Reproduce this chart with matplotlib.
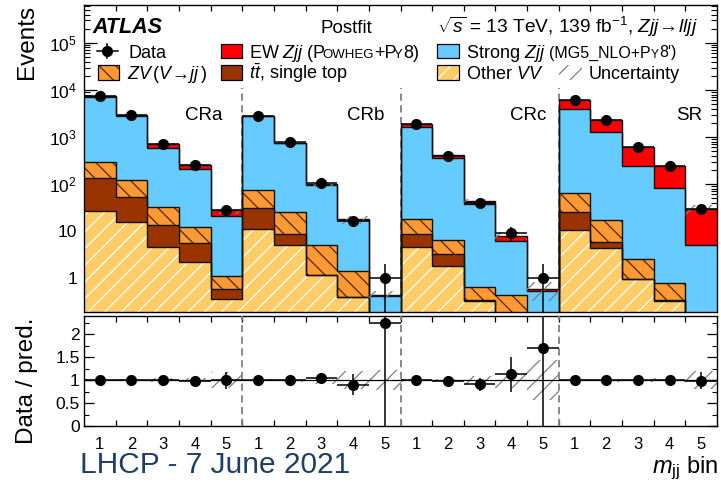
import numpy as np
import matplotlib
matplotlib.use("Agg")
import matplotlib.pyplot as plt
from matplotlib.patches import Rectangle
from matplotlib.lines import Line2D
from matplotlib.ticker import FixedLocator, FixedFormatter, LogLocator, NullFormatter, MultipleLocator

FONT = "Liberation Sans"
plt.rcParams.update({
    "font.family": [FONT, "DejaVu Sans"],
    "mathtext.fontset": "custom",
    "mathtext.rm": FONT,
    "mathtext.it": FONT + ":italic",
    "mathtext.bf": FONT + ":bold",
    "hatch.linewidth": 0.9,
    "axes.linewidth": 1.0,
})

# yields per m_jj bin, regions CRa, CRb, CRc, SR (5 bins each)
regions = ["CRa", "CRb", "CRc", "SR"]
bin_labels = ["1", "2", "3", "4", "5"] * 4
data = [7280, 2940, 700, 250, 28, 2800, 765, 103, 16, 1,
        1850, 400, 40, 9, 1, 6100, 2300, 622, 241, 29]
ew_zjj = [330, 140, 115, 48, 7, 30, 10, 2, 0.4, 0.03,
          190, 43, 6, 1.85, 0.06, 2220, 1040, 381, 158, 24.4]
strong_zjj = [6650, 2680, 553, 193, 19.9, 2700, 724, 92, 15.9, 0.39,
              1640, 357, 37.4, 5.7, 0.5, 3820, 1243, 238, 82, 4.85]
zv = [165, 70, 18.8, 6.4, 0.54, 43, 16.9, 3.84, 1.03, 0.01,
      8.9, 3.2, 0.31, 0.32, 0.01, 37.3, 11.2, 1.65, 0.45, 0.05]
ttbar = [105, 36.7, 8.7, 3.4, 0.22, 20, 3.8, 0.02, 0.01, 0.005,
         4.2, 1.4, 0.01, 0.01, 0.005, 15.2, 1.6, 0.01, 0.01, 0.01]
other_vv = [27, 15.3, 4.5, 2.2, 0.36, 11, 5.0, 1.14, 0.39, 0.01,
            4.6, 1.8, 0.33, 0.1, 0.01, 10.5, 4.3, 0.94, 0.33, 0.1]
rel_unc = [0.02, 0.02, 0.04, 0.05, 0.18, 0.02, 0.03, 0.08, 0.2, 0.22,
           0.03, 0.03, 0.1, 0.18, 0.44, 0.02, 0.03, 0.04, 0.05, 0.2]

C_EW = "#ff0000"
C_STRONG = "#66ccff"
C_ZV = "#ff9933"
C_TT = "#993300"
C_VV = "#ffcc66"
C_UNC = "#7f7f7f"

W, H = 721, 482


def fx(px):
    return px / W


def fy(py):
    return 1 - py / H


fig = plt.figure(figsize=(W / 100, H / 100), dpi=100)
ax = fig.add_axes([fx(84), fy(312), (717 - 84) / W, (312 - 5) / H])
ax2 = fig.add_axes([fx(84), fy(426), (717 - 84) / W, (426 - 316) / H])

nb = len(data)
edges = np.arange(nb + 1)
centers = edges[:-1] + 0.5
data = np.array(data, float)
u = np.array(rel_unc)

# stacked backgrounds, bottom to top
layers = [
    (other_vv, C_VV, "white", "//"),
    (ttbar, C_TT, None, None),
    (zv, C_ZV, "#4d2600", "\\\\"),
    (strong_zjj, C_STRONG, None, None),
    (ew_zjj, C_EW, None, None),
]
base = np.full(nb, 1e-3)
tops = []
for vals, face, hc, hatch in layers:
    top = base + np.array(vals)
    ax.stairs(top, edges, baseline=base, fill=True, facecolor=face,
              edgecolor=hc if hc else face, hatch=hatch, lw=0, zorder=2)
    tops.append(top)
    base = top
for top in tops:
    ax.stairs(top, edges, baseline=None, color="#111111", lw=1.0, zorder=3)
total = base

ax.stairs(total * (1 + u), edges, baseline=total * (1 - u), fill=True,
          facecolor="none", edgecolor=C_UNC, hatch="//", lw=0, zorder=4)

err = np.sqrt(data)
err_lo = np.minimum(err, data - 1e-4)
ax.errorbar(centers, data, yerr=[err_lo, err], xerr=0.5, fmt="o", color="k",
            ms=7, elinewidth=1.1, capsize=0, zorder=6)

ax.vlines([5, 10, 15], 0.19, 1.1e4, colors=C_UNC, linestyles=(0, (4, 2.5)),
          lw=1.3, zorder=1)

ax.set_xlim(0, nb)
ax.set_yscale("log")
ax.set_ylim(0.19, 6.4e5)
ax.set_xticks(edges[1:-1])
ax.xaxis.set_major_formatter(NullFormatter())
ax.tick_params(axis="x", which="major", direction="in", length=4.5, top=True,
               width=0.9)
ax.yaxis.set_major_locator(FixedLocator([1, 10, 1e2, 1e3, 1e4, 1e5]))
ax.yaxis.set_major_formatter(FixedFormatter(
    ["1", "10", r"$10^{2}$", r"$10^{3}$", r"$10^{4}$", r"$10^{5}$"]))
ax.yaxis.set_minor_locator(LogLocator(base=10, subs=np.arange(2, 10)))
ax.yaxis.set_minor_formatter(NullFormatter())
ax.tick_params(axis="y", which="major", direction="in", length=9, width=0.9,
               right=True, labelsize=12.5, pad=5)
ax.tick_params(axis="y", which="minor", direction="in", length=4.5, width=0.8,
               right=True)

# ratio panel
ratio = data / total
ratio_err = np.sqrt(data) / total
ax2.stairs(1 + u, edges, baseline=1 - u, fill=True, facecolor="none",
           edgecolor=C_UNC, hatch="//", lw=0, zorder=2)
ax2.axhline(1, color="k", lw=0.9, zorder=3)
ax2.errorbar(centers, ratio, yerr=ratio_err, xerr=0.5, fmt="o", color="k",
             ms=7, elinewidth=1.1, capsize=0, zorder=6)
ax2.vlines([5, 10, 15], 0, 2.4, colors=C_UNC, linestyles=(0, (4, 2.5)),
           lw=1.3, zorder=5)
ax2.set_xlim(0, nb)
ax2.set_ylim(0, 2.4)
ax2.set_xticks(edges[1:-1])
ax2.xaxis.set_major_formatter(NullFormatter())
ax2.set_xticks(centers, labels=bin_labels, minor=True)
ax2.tick_params(axis="x", which="major", direction="in", length=4.5, top=True,
                width=0.9)
ax2.tick_params(axis="x", which="minor", length=0, pad=8, labelsize=12)
ax2.set_yticks([0, 0.5, 1, 1.5, 2], labels=["0", "0.5", "1", "1.5", "2"])
ax2.yaxis.set_minor_locator(MultipleLocator(0.25))
ax2.tick_params(axis="y", which="major", direction="in", length=7, width=0.9,
                right=True, labelsize=12.5, pad=3)
ax2.tick_params(axis="y", which="minor", direction="in", length=3.5,
                width=0.8, right=True)

# header texts
fig.text(fx(92), fy(33), "ATLAS", weight="bold", style="italic", size=15.5,
         va="baseline")
fig.text(fx(346), fy(33), "Postfit", ha="center", va="baseline", size=13.5)
fig.text(fx(698), fy(33),
         r"$\sqrt{s}$ = 13 TeV, 139 fb$^{-1}$, $Zjj\!\rightarrow\!lljj$",
         ha="right", va="baseline", size=13.8)

for name, px in zip(regions, [204, 366, 528, 689]):
    fig.text(fx(px), fy(120), name, ha="center", va="baseline", size=13.5)

renderer = fig.canvas.get_renderer()


def rich_text(x_px, base_py, parts):
    # pieces of (text, size, pixel correction before next piece)
    x = x_px
    for s, size, kern in parts:
        t = fig.text(fx(x), fy(base_py), s, size=size, va="baseline")
        x += t.get_window_extent(renderer).width - kern


def legend_box(x0, y0, x1, y1, face, hatch_color=None, hatch=None, border=True):
    r = Rectangle((fx(x0), fy(y1)), (x1 - x0) / W, (y1 - y0) / H,
                  transform=fig.transFigure, facecolor=face,
                  edgecolor=hatch_color if hatch_color else face,
                  hatch=hatch, lw=0)
    fig.add_artist(r)
    if border:
        fig.add_artist(Rectangle((fx(x0), fy(y1)), (x1 - x0) / W,
                                 (y1 - y0) / H, transform=fig.transFigure,
                                 fill=False, edgecolor="k", lw=0.9))


# legend, row 1
fig.add_artist(Line2D([fx(97), fx(118)], [fy(51), fy(51)], color="k", lw=1.1))
fig.add_artist(Line2D([fx(107.5), fx(107.5)], [fy(44), fy(58)], color="k", lw=1.1))
fig.add_artist(Line2D([fx(107.5)], [fy(51)], marker="o", color="k", ms=7))
fig.text(fx(128), fy(57.5), "Data", va="baseline", size=13)

legend_box(221, 43.5, 242, 58, C_EW)
rich_text(249, 57.5, [("EW $Zjj$ (P", 13, 4), ("OWHEG", 9.5, -1),
                      ("+P", 13, 3), ("Y", 9.5, 0), ("8)", 13, 0)])
legend_box(437, 43.5, 459, 58, C_STRONG)
rich_text(466, 57.5, [("Strong $Zjj$", 13, -4), ("(MG5_NLO+P", 11.5, 0),
                      ("Y", 8.5, 0), ("8')", 11.5, 0)])

# legend, row 2
legend_box(98, 65, 119, 80, C_ZV, "#4d2600", "\\\\")
fig.text(fx(127), fy(79), r"$ZV\,(V\!\rightarrow\!jj\,)$", va="baseline", size=13)
legend_box(221, 65, 242, 80, C_TT)
fig.text(fx(249), fy(79), r"$t\bar{t}$, single top", va="baseline", size=13)
legend_box(437, 65, 459, 80, C_VV, "white", "//")
fig.text(fx(466), fy(79), r"Other $VV$", va="baseline", size=13)
legend_box(559, 65, 582, 80, "none", C_UNC, "//", border=False)
fig.text(fx(589), fy(79), "Uncertainty", va="baseline", size=13)

# axis titles
fig.text(fx(27), fy(5), "Events", rotation=90, ha="center", va="top", size=17.5)
fig.text(fx(27), fy(317), "Data / pred.", rotation=90, ha="center", va="top",
         size=17.5)
fig.text(fx(718), fy(473), r"$m_{\mathrm{jj}}$ bin", ha="right", va="baseline",
         size=17)
fig.text(fx(80), fy(473), "LHCP - 7 June 2021", size=21.5, color="#1f3d66",
         va="baseline")

fig.savefig("out.png", dpi=100)
